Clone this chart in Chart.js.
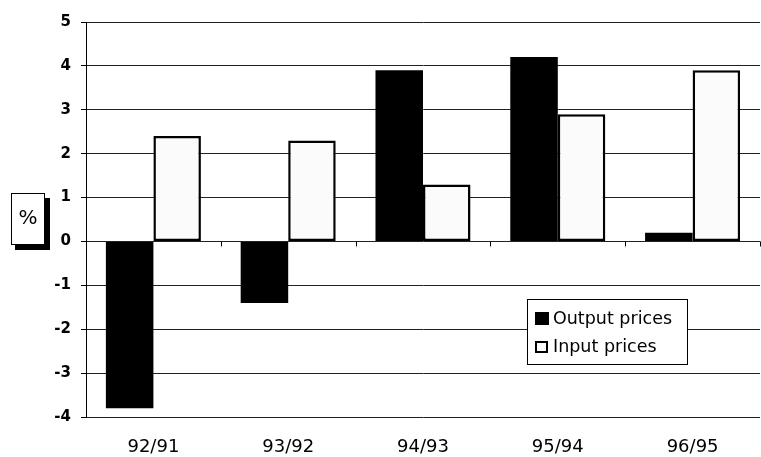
<!DOCTYPE html>
<html>
<head>
<meta charset="utf-8">
<script src="https://cdn.jsdelivr.net/npm/chart.js@4.4.0/dist/chart.umd.min.js"></script>
<style>
html,body{margin:0;padding:0;background:#fff;}
#wrap{width:761px;height:457px;position:relative;}
</style>
</head>
<body>
<div id="wrap"><canvas id="c" width="761" height="457"></canvas></div>
<script>
const categories = ["92/91", "93/92", "94/93", "95/94", "96/95"];
const outputPrices = [-3.8, -1.4, 3.9, 4.2, 0.2];
const inputPrices = [2.4, 2.3, 1.3, 2.9, 3.9];
const seriesNames = ["Output prices", "Input prices"];
const yTicks = [-4, -3, -2, -1, 0, 1, 2, 3, 4, 5];
const unitLabel = "%";

const decor = {
  id: 'decor',
  afterDraw(chart) {
    const ctx = chart.ctx;
    const x = chart.scales.x, y = chart.scales.y;
    ctx.save();
    // ticks on zero line at category boundaries
    const y0 = y.getPixelForValue(0);
    ctx.strokeStyle = '#000';
    ctx.lineWidth = 1;
    for (let i = 0; i <= categories.length; i++) {
      const px = Math.round(x.getPixelForValue(i - 0.5)) + 0.5;
      ctx.beginPath();
      ctx.moveTo(px, y0);
      ctx.lineTo(px, y0 + 5);
      ctx.stroke();
    }
    // % box with shadow
    ctx.fillStyle = '#000';
    ctx.fillRect(15, 198, 35, 52);
    ctx.fillStyle = '#fff';
    ctx.fillRect(11, 193, 34, 52);
    ctx.strokeStyle = '#000';
    ctx.lineWidth = 1;
    ctx.strokeRect(11.5, 193.5, 33, 51);
    ctx.fillStyle = '#000';
    ctx.font = '20px "DejaVu Sans"';
    ctx.textAlign = 'center';
    ctx.textBaseline = 'middle';
    ctx.fillText(unitLabel, 28, 219);
    // legend
    const lx = 527, ly = 299, lw = 160, lh = 65;
    ctx.fillStyle = '#fff';
    ctx.fillRect(lx, ly, lw, lh);
    ctx.strokeStyle = '#000';
    ctx.lineWidth = 1;
    ctx.strokeRect(lx + 0.5, ly + 0.5, lw, lh);
    ctx.font = '17.5px "DejaVu Sans"';
    ctx.textAlign = 'left';
    ctx.textBaseline = 'middle';
    // output
    ctx.fillStyle = '#000';
    ctx.fillRect(lx + 8, ly + 13, 14, 13);
    ctx.fillText(seriesNames[0], lx + 26, ly + 20);
    // input
    ctx.fillStyle = '#fff';
    ctx.fillRect(lx + 8, ly + 42, 12, 12);
    ctx.lineWidth = 2;
    ctx.strokeRect(lx + 9, ly + 43, 11, 10);
    ctx.fillStyle = '#000';
    ctx.fillText(seriesNames[1], lx + 26, ly + 48);
    ctx.restore();
  }
};

new Chart(document.getElementById('c'), {
  type: 'bar',
  data: {
    labels: categories,
    datasets: [
      { label: seriesNames[0], data: outputPrices, backgroundColor: '#000', borderWidth: 0 },
      { label: seriesNames[1], data: inputPrices, backgroundColor: '#fbfbfb', borderColor: '#000', borderWidth: 2.5, borderSkipped: false }
    ]
  },
  options: {
    responsive: false,
    animation: false,
    events: [],
    layout: { padding: { top: 22, right: 1, left: 0, bottom: 0 } },
    datasets: { bar: { categoryPercentage: 0.705, barPercentage: 1 } },
    plugins: { legend: { display: false }, tooltip: { enabled: false } },
    scales: {
      x: {
        grid: { display: false, drawTicks: false },
        border: { display: false },
        ticks: { color: '#000', font: { family: '"DejaVu Sans"', size: 18 }, padding: 20, maxRotation: 0 },
        afterFit(s) { s.height = 40; }
      },
      y: {
        min: -4, max: 5,
        afterBuildTicks(s) { s.ticks = yTicks.map(v => ({ value: v })); },
        grid: { color: '#222', lineWidth: 1, tickLength: 5, tickColor: '#000' },
        border: { display: true, color: '#000', width: 1 },
        ticks: { color: '#000', font: { family: '"DejaVu Sans"', size: 15, weight: 'bold' }, padding: 10 },
        afterFit(s) { s.width = 86; }
      }
    }
  },
  plugins: [decor]
});
</script>
</body>
</html>
